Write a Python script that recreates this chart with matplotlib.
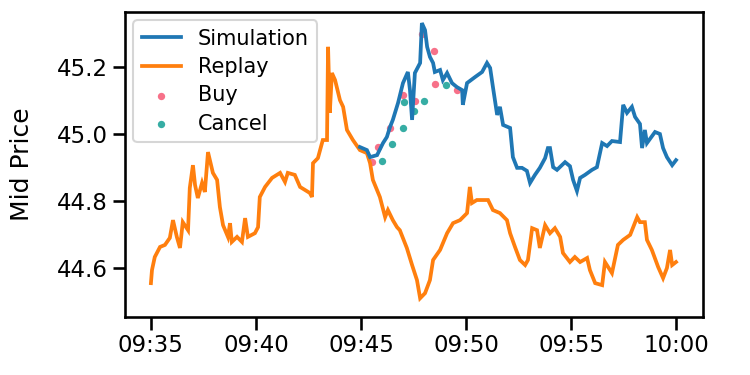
import matplotlib
matplotlib.use("Agg")
import matplotlib.pyplot as plt
import matplotlib.dates as mdates
import pandas as pd
import seaborn as sns

sns.set_context("talk")
plt.rcParams['font.family'] = ['DejaVu Sans']

DAY = "2021-01-04 "

replay_times = ["09:35:00", "09:35:03", "09:35:11", "09:35:26", "09:35:40", "09:35:54", "09:36:03", "09:36:14",
                "09:36:23", "09:36:31", "09:36:46", "09:36:51", "09:37:00", "09:37:06", "09:37:14", "09:37:26",
                "09:37:34", "09:37:43", "09:37:57", "09:38:09", "09:38:17", "09:38:26", "09:38:40", "09:38:46",
                "09:38:51", "09:39:06", "09:39:20", "09:39:29", "09:39:37", "09:39:57", "09:40:06", "09:40:11",
                "09:40:26", "09:40:46", "09:41:09", "09:41:23", "09:41:31", "09:41:51", "09:42:06", "09:42:34",
                "09:42:40", "09:42:43", "09:42:57", "09:43:11", "09:43:23", "09:43:26", "09:43:31", "09:43:37",
                "09:43:46", "09:44:00", "09:44:09", "09:44:20", "09:44:37", "09:44:57", "09:45:17", "09:45:26",
                "09:45:34", "09:45:54", "09:46:09", "09:46:17", "09:46:31", "09:46:43", "09:46:51", "09:47:11",
                "09:47:26", "09:47:40", "09:47:49", "09:48:03", "09:48:17", "09:48:26", "09:48:46", "09:49:06",
                "09:49:23", "09:49:43", "09:50:03", "09:50:11", "09:50:17", "09:50:31", "09:51:03", "09:51:17",
                "09:51:37", "09:51:57", "09:52:06", "09:52:20", "09:52:34", "09:52:49", "09:52:57", "09:53:09",
                "09:53:23", "09:53:31", "09:53:46", "09:54:00", "09:54:14", "09:54:29", "09:54:37", "09:54:57",
                "09:55:11", "09:55:26", "09:55:46", "09:55:54", "09:56:09", "09:56:29", "09:56:37", "09:56:57",
                "09:57:14", "09:57:29", "09:57:49", "09:58:09", "09:58:17", "09:58:31", "09:58:37", "09:58:51",
                "09:59:09", "09:59:23", "09:59:34", "09:59:43", "09:59:49", "10:00:00"]
replay_prices = [44.555, 44.594, 44.633, 44.663, 44.669, 44.690, 44.743, 44.693,
                 44.660, 44.737, 44.713, 44.839, 44.907, 44.848, 44.809, 44.854,
                 44.827, 44.946, 44.884, 44.863, 44.782, 44.728, 44.693, 44.734,
                 44.678, 44.693, 44.678, 44.749, 44.693, 44.704, 44.722, 44.812,
                 44.842, 44.869, 44.884, 44.857, 44.884, 44.878, 44.842, 44.824,
                 44.812, 44.913, 44.928, 44.982, 44.982, 45.260, 45.063, 45.182,
                 45.161, 45.101, 45.081, 45.012, 44.982, 44.952, 44.943, 44.913,
                 44.863, 44.812, 44.752, 44.773, 44.743, 44.722, 44.713, 44.660,
                 44.609, 44.564, 44.510, 44.525, 44.564, 44.624, 44.654, 44.704,
                 44.734, 44.743, 44.764, 44.842, 44.794, 44.803, 44.803, 44.773,
                 44.764, 44.743, 44.704, 44.663, 44.624, 44.609, 44.624, 44.719,
                 44.713, 44.660, 44.728, 44.704, 44.719, 44.693, 44.645, 44.618,
                 44.633, 44.618, 44.630, 44.594, 44.555, 44.549, 44.618, 44.585,
                 44.669, 44.684, 44.699, 44.752, 44.737, 44.737, 44.684, 44.654,
                 44.603, 44.570, 44.600, 44.654, 44.609, 44.618]

sim_times = ["09:44:57", "09:45:17", "09:45:26", "09:45:46", "09:46:03", "09:46:14", "09:46:23", "09:46:31",
             "09:46:46", "09:47:00", "09:47:14", "09:47:20", "09:47:26", "09:47:34", "09:47:49", "09:47:54",
             "09:48:03", "09:48:09", "09:48:17", "09:48:26", "09:48:31", "09:48:46", "09:48:54", "09:49:06",
             "09:49:20", "09:49:34", "09:49:49", "09:49:51", "09:50:03", "09:50:26", "09:50:46", "09:51:00",
             "09:51:09", "09:51:17", "09:51:29", "09:51:37", "09:51:46", "09:52:06", "09:52:14", "09:52:26",
             "09:52:40", "09:52:54", "09:53:03", "09:53:17", "09:53:31", "09:53:46", "09:53:54", "09:54:00",
             "09:54:09", "09:54:20", "09:54:43", "09:54:57", "09:55:06", "09:55:17", "09:55:26", "09:55:40",
             "09:56:00", "09:56:14", "09:56:29", "09:56:43", "09:56:57", "09:57:20", "09:57:29", "09:57:40",
             "09:57:54", "09:58:03", "09:58:17", "09:58:23", "09:58:31", "09:58:37", "09:59:00", "09:59:14",
             "09:59:23", "09:59:34", "09:59:49", "10:00:00"]
sim_prices = [44.961, 44.952, 44.931, 44.937, 44.973, 44.991, 45.021, 45.042,
              45.093, 45.152, 45.185, 45.131, 45.042, 45.182, 45.212, 45.331,
              45.310, 45.260, 45.230, 45.212, 45.185, 45.191, 45.161, 45.182,
              45.152, 45.140, 45.131, 45.087, 45.152, 45.170, 45.185, 45.212,
              45.197, 45.140, 45.057, 45.081, 45.027, 45.018, 44.931, 44.899,
              44.899, 44.890, 44.854, 44.878, 44.899, 44.928, 44.958, 44.958,
              44.901, 44.893, 44.916, 44.904, 44.863, 44.830, 44.869, 44.878,
              44.893, 44.901, 44.973, 44.964, 44.979, 44.976, 45.087, 45.063,
              45.081, 45.051, 45.030, 44.958, 45.012, 44.973, 45.006, 45.000,
              44.958, 44.931, 44.907, 44.922]

buy_times = ["09:45:31", "09:45:49", "09:46:23", "09:47:00", "09:47:34", "09:47:54", "09:48:29", "09:48:31", "09:49:34"]
buy_prices = [44.916, 44.961, 45.018, 45.116, 45.099, 45.299, 45.248, 45.149, 45.131]

cancel_times = ["09:46:00", "09:46:29", "09:47:00", "09:47:03", "09:47:31", "09:48:00", "09:49:03"]
cancel_prices = [44.919, 44.970, 45.018, 45.096, 45.069, 45.099, 45.146]

yticks = [44.6, 44.8, 45.0, 45.2]


def to_dt(ts):
    return pd.to_datetime([DAY + t for t in ts])


fig = plt.figure(figsize=(7.5, 3.75), dpi=100)
ax = fig.add_axes([0.1667, 0.1547, 0.7706, 0.8133])

pal = sns.color_palette("husl", 2)
ax.scatter(to_dt(buy_times), buy_prices, s=28, color=pal[0], label="Buy", zorder=1.5, linewidths=0)
ax.scatter(to_dt(cancel_times), cancel_prices, s=28, color=pal[1], label="Cancel", zorder=1.5, linewidths=0)
ax.plot(to_dt(sim_times), sim_prices, color="#1f77b4", lw=2.7, label="Simulation", zorder=2.2,
        solid_joinstyle="miter")
ax.plot(to_dt(replay_times), replay_prices, color="#ff7f0e", lw=2.7, label="Replay", zorder=2.1,
        solid_joinstyle="miter")

t0 = pd.Timestamp(DAY + "09:35:00")
ax.set_xlim(t0 - pd.Timedelta(seconds=74), t0 + pd.Timedelta(seconds=1577))
ax.set_ylim(44.454, 45.364)
ax.set_yticks(yticks)
ax.xaxis.set_major_locator(mdates.MinuteLocator(byminute=range(0, 60, 5)))
ax.xaxis.set_major_formatter(mdates.DateFormatter("%H:%M"))
ax.tick_params(labelsize=16.5)
ax.set_ylabel("Mid Price", fontsize=18, labelpad=16)

handles, labels = ax.get_legend_handles_labels()
order = [labels.index(n) for n in ["Simulation", "Replay", "Buy", "Cancel"]]
ax.legend([handles[i] for i in order], [labels[i] for i in order], loc="upper left", fontsize=15,
          handlelength=1.9, borderaxespad=0.4, labelspacing=0.4)

fig.savefig("out.png", dpi=100)
